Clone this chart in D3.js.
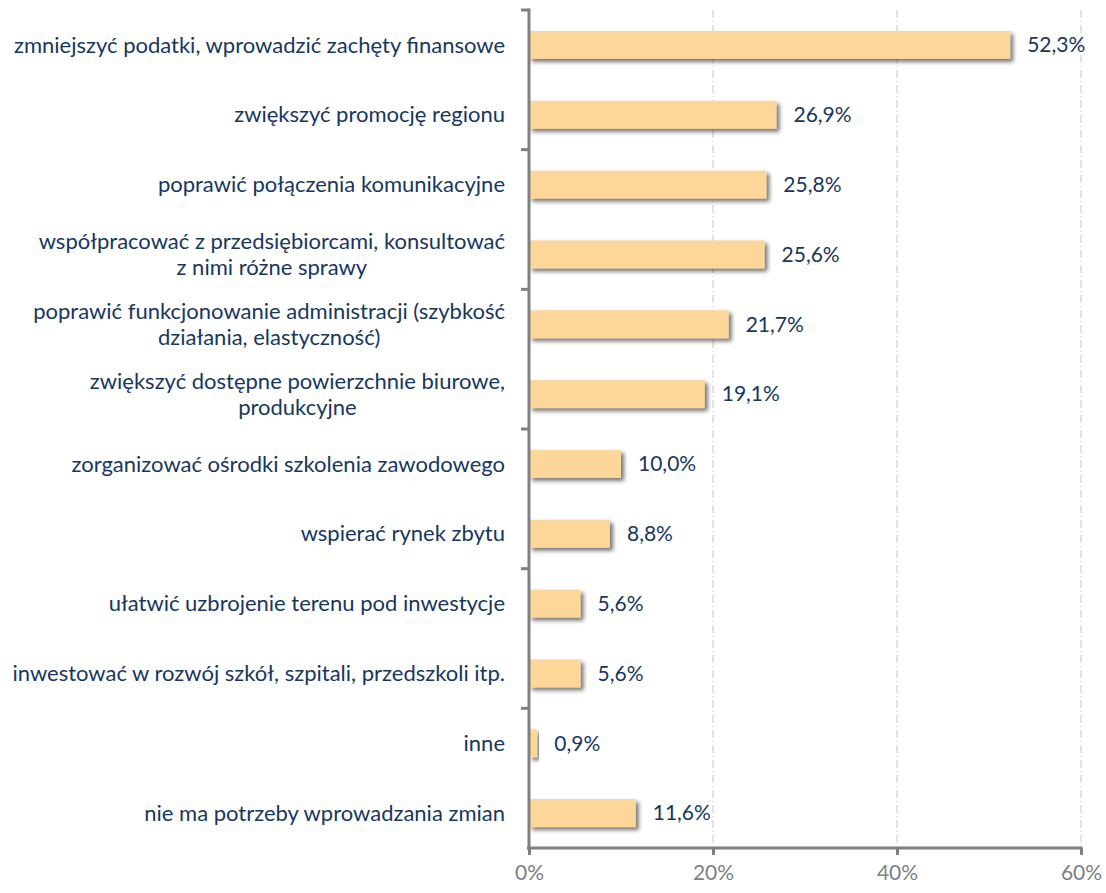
<!DOCTYPE html>
<html>
<head>
<meta charset="utf-8">
<script src="https://cdn.jsdelivr.net/npm/d3@7"></script>
<style>
  body { margin: 0; background: #fff; }
  text { font-family: Lato, "Open Sans", sans-serif; }
</style>
</head>
<body>
<div id="chart"></div>
<script>
var svgWidth = 1106;
var svgHeight = 893;

var margin = { top: 10, right: 25, bottom: 45, left: 529 };
var width = svgWidth - margin.left - margin.right;
var height = svgHeight - margin.top - margin.bottom;

// categories, each label split into its lines
var categories = [
  ["zmniejszyć podatki, wprowadzić zachęty finansowe"],
  ["zwiększyć promocję regionu"],
  ["poprawić połączenia komunikacyjne"],
  ["współpracować z przedsiębiorcami, konsultować", "z nimi różne sprawy"],
  ["poprawić funkcjonowanie administracji (szybkość", "działania, elastyczność)"],
  ["zwiększyć dostępne powierzchnie biurowe,", "produkcyjne"],
  ["zorganizować ośrodki szkolenia zawodowego"],
  ["wspierać rynek zbytu"],
  ["ułatwić uzbrojenie terenu pod inwestycje"],
  ["inwestować w rozwój szkół, szpitali, przedszkoli itp."],
  ["inne"],
  ["nie ma potrzeby wprowadzania zmian"]
];
var values = [52.3, 26.9, 25.8, 25.6, 21.7, 19.1, 10.0, 8.8, 5.6, 5.6, 0.9, 11.6];
var xTicks = [0, 20, 40, 60];

var labelColor = "#17375e";
var axisColor = "#808080";

var svg = d3.select("#chart")
  .append("svg")
  .attr("width", svgWidth)
  .attr("height", svgHeight);

var defs = svg.append("defs");
var shadow = defs.append("filter")
  .attr("id", "shadow")
  .attr("x", "-10%").attr("y", "-30%")
  .attr("width", "130%").attr("height", "180%");
shadow.append("feGaussianBlur").attr("in", "SourceAlpha").attr("stdDeviation", 2);
shadow.append("feOffset").attr("dx", 3).attr("dy", 3).attr("result", "off");
shadow.append("feComponentTransfer").append("feFuncA").attr("type", "linear").attr("slope", 0.55);
var merge = shadow.append("feMerge");
merge.append("feMergeNode");
merge.append("feMergeNode").attr("in", "SourceGraphic");

var chartGroup = svg.append("g")
  .attr("transform", `translate(${margin.left}, ${margin.top})`);

var idx = d3.range(categories.length);

var xScale = d3.scaleLinear().domain([0, 60]).range([0, width]);
var yScale = d3.scaleBand().domain(idx).range([0, height]).paddingInner(0.6).paddingOuter(0.3);

// gridlines
chartGroup.selectAll(".grid")
  .data(xTicks.slice(1))
  .enter()
  .append("line")
  .attr("x1", d => xScale(d))
  .attr("x2", d => xScale(d))
  .attr("y1", 0)
  .attr("y2", height)
  .attr("stroke", "#c8c8c8")
  .attr("stroke-width", 1)
  .attr("stroke-dasharray", "8,3,1,3");

// bars
chartGroup.selectAll(".bar")
  .data(idx)
  .enter()
  .append("rect")
  .attr("x", 0)
  .attr("y", i => yScale(i))
  .attr("width", i => xScale(values[i]))
  .attr("height", yScale.bandwidth())
  .attr("fill", "#fdd699")
  .attr("filter", "url(#shadow)");

// value labels
chartGroup.selectAll(".val")
  .data(idx)
  .enter()
  .append("text")
  .attr("x", i => xScale(values[i]) + 17)
  .attr("y", i => yScale(i) + yScale.bandwidth() / 2)
  .attr("dy", "0.35em")
  .attr("fill", labelColor)
  .style("font-size", "21px")
  .text(i => values[i].toFixed(1).replace(".", ",") + "%");

// bottom axis
var bottomAxis = d3.axisBottom(xScale)
  .tickValues(xTicks)
  .tickSize(7)
  .tickFormat(d => d + "%");
var xAxis = chartGroup.append("g")
  .attr("transform", `translate(0, ${height})`)
  .call(bottomAxis);
xAxis.select(".domain").attr("stroke", axisColor).attr("stroke-width", 3)
  .attr("d", `M-2,0H${width + 1.5}`);
xAxis.selectAll(".tick line").attr("stroke", axisColor).attr("stroke-width", 3);
xAxis.selectAll(".tick text")
  .attr("fill", axisColor)
  .attr("y", 17)
  .attr("dy", "0.71em")
  .style("font-size", "21px");

// left axis: ticks every two categories
var leftAxis = chartGroup.append("g");
leftAxis.append("line")
  .attr("x1", 0).attr("x2", 0)
  .attr("y1", -1.5).attr("y2", height)
  .attr("stroke", axisColor)
  .attr("stroke-width", 3);
var step = height / categories.length;
leftAxis.selectAll(".ytick")
  .data(d3.range(0, categories.length, 2))
  .enter()
  .append("line")
  .attr("x1", -8).attr("x2", 0)
  .attr("y1", d => d * step)
  .attr("y2", d => d * step)
  .attr("stroke", axisColor)
  .attr("stroke-width", 3);

// category labels
var lineH = 26;
var labels = chartGroup.selectAll(".cat")
  .data(idx)
  .enter()
  .append("text")
  .attr("fill", labelColor)
  .style("font-size", "22px");

labels.each(function(i) {
  var t = d3.select(this);
  var lines = categories[i];
  var cy = yScale(i) + yScale.bandwidth() / 2;
  var y0 = cy - (lines.length - 1) * lineH / 2;
  if (lines.length === 1) {
    t.attr("text-anchor", "end")
      .attr("x", -24)
      .attr("y", cy)
      .attr("dy", "0.35em")
      .text(lines[0]);
  } else {
    lines.forEach((s, k) => {
      t.append("tspan")
        .attr("x", 0)
        .attr("y", y0 + k * lineH)
        .attr("dy", "0.35em")
        .text(s);
    });
    // center the lines in a block that is right aligned
    var w = d3.max(t.selectAll("tspan").nodes(), n => n.getComputedTextLength());
    t.attr("text-anchor", "middle");
    t.selectAll("tspan").attr("x", -24 - w / 2);
  }
});
</script>
</body>
</html>
